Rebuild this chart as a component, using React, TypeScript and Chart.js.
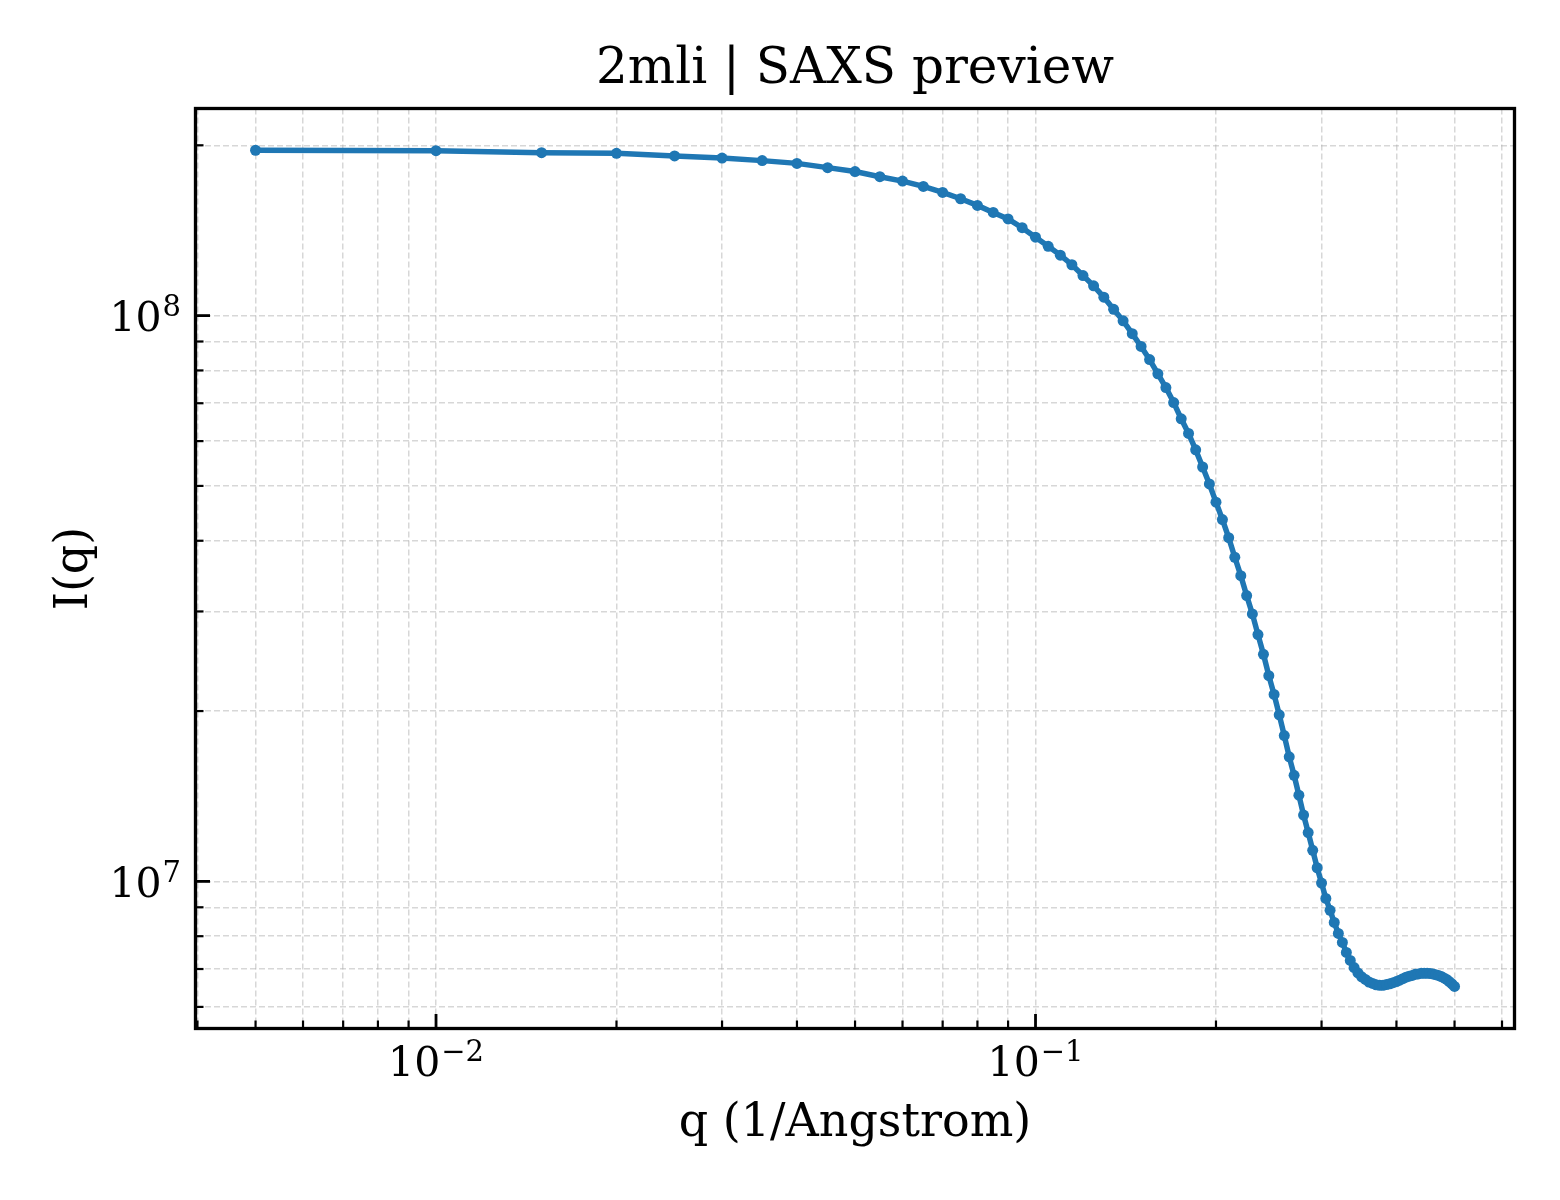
import React, { useEffect, useRef } from "react";
import { Chart, registerables } from "chart.js";

Chart.register(...registerables);

// q in 1/Angstrom
const qValues = [
  0.005, 0.01, 0.015, 0.02, 0.025, 0.03, 0.035, 0.04, 0.045, 0.05,
  0.055, 0.06, 0.065, 0.07, 0.075, 0.08, 0.085, 0.09, 0.095, 0.1,
  0.105, 0.11, 0.115, 0.12, 0.125, 0.13, 0.135, 0.14, 0.145, 0.15,
  0.155, 0.16, 0.165, 0.17, 0.175, 0.18, 0.185, 0.19, 0.195, 0.2,
  0.205, 0.21, 0.215, 0.22, 0.225, 0.23, 0.235, 0.24, 0.245, 0.25,
  0.255, 0.26, 0.265, 0.27, 0.275, 0.28, 0.285, 0.29, 0.295, 0.3,
  0.305, 0.31, 0.315, 0.32, 0.325, 0.33, 0.335, 0.34, 0.345, 0.35,
  0.355, 0.36, 0.365, 0.37, 0.375, 0.38, 0.385, 0.39, 0.395, 0.4,
  0.405, 0.41, 0.415, 0.42, 0.425, 0.43, 0.435, 0.44, 0.445, 0.45,
  0.455, 0.46, 0.465, 0.47, 0.475, 0.48, 0.485, 0.49, 0.495, 0.5,
];

// I(q)
const intensity = [
  1.96e8, 1.957e8, 1.941e8, 1.936e8, 1.915e8, 1.899e8, 1.879e8, 1.858e8, 1.826e8, 1.797e8,
  1.76e8, 1.729e8, 1.692e8, 1.651e8, 1.609e8, 1.566e8, 1.522e8, 1.482e8, 1.43e8, 1.376e8,
  1.326e8, 1.279e8, 1.23e8, 1.177e8, 1.129e8, 1.078e8, 1.026e8, 9.79e7, 9.29e7, 8.82e7,
  8.36e7, 7.89e7, 7.46e7, 7.02e7, 6.57e7, 6.19e7, 5.79e7, 5.4e7, 5.04e7, 4.68e7,
  4.36e7, 4.05e7, 3.74e7, 3.47e7, 3.2e7, 2.97e7, 2.73e7, 2.52e7, 2.31e7, 2.14e7,
  1.97e7, 1.81e7, 1.66e7, 1.54e7, 1.42e7, 1.31e7, 1.22e7, 1.135e7, 1.057e7, 9.93e6,
  9.33e6, 8.89e6, 8.46e6, 8.09e6, 7.8e6, 7.49e6, 7.25e6, 7.04e6, 6.89e6, 6.78e6,
  6.71e6, 6.64e6, 6.6e6, 6.565e6, 6.55e6, 6.55e6, 6.57e6, 6.59e6, 6.62e6, 6.65e6,
  6.69e6, 6.73e6, 6.77e6, 6.8e6, 6.82e6, 6.85e6, 6.86e6, 6.88e6, 6.88e6, 6.88e6,
  6.875e6, 6.86e6, 6.84e6, 6.82e6, 6.79e6, 6.75e6, 6.71e6, 6.65e6, 6.59e6, 6.52e6,
];

// tick positions (log axes: 1..9 x 10^k)
const xTickValues = [
  0.004, 0.005, 0.006, 0.007, 0.008, 0.009,
  0.01, 0.02, 0.03, 0.04, 0.05, 0.06, 0.07, 0.08, 0.09,
  0.1, 0.2, 0.3, 0.4, 0.5, 0.6,
];
const yTickValues = [
  6e6, 7e6, 8e6, 9e6,
  1e7, 2e7, 3e7, 4e7, 5e7, 6e7, 7e7, 8e7, 9e7,
  1e8, 2e8,
];
const xMajorTicks = [0.01, 0.1];
const xMajorExponents = ["\u22122", "\u22121"];
const yMajorTicks = [1e7, 1e8];
const yMajorExponents = ["7", "8"];

const SERIF = "'DejaVu Serif', serif";

function drawPower(
  ctx: CanvasRenderingContext2D,
  exp: string,
  anchorX: number,
  baseline: number,
  align: "center" | "right"
) {
  ctx.font = `41px ${SERIF}`;
  const w1 = ctx.measureText("10").width;
  ctx.font = `29px ${SERIF}`;
  const w2 = ctx.measureText(exp).width;
  const gap = 1;
  const total = w1 + gap + w2;
  const start = align === "center" ? anchorX - total / 2 : anchorX - total;
  ctx.textAlign = "left";
  ctx.textBaseline = "alphabetic";
  ctx.font = `41px ${SERIF}`;
  ctx.fillText("10", start, baseline);
  ctx.font = `29px ${SERIF}`;
  ctx.fillText(exp, start + w1 + gap, baseline - 15);
}

// inward ticks, full frame and 10^n labels, matplotlib style
const axisDecor = {
  id: "axisDecor",
  afterDraw(chart: any) {
    const { ctx, chartArea: a, scales } = chart;
    const xs = scales.x;
    const ys = scales.y;
    ctx.save();
    ctx.strokeStyle = "#000";

    xTickValues.forEach((v) => {
      const px = xs.getPixelForValue(v);
      if (px < a.left || px > a.right) return;
      const major = xMajorTicks.includes(v);
      ctx.lineWidth = major ? 2.8 : 2.2;
      ctx.beginPath();
      ctx.moveTo(px, a.bottom);
      ctx.lineTo(px, a.bottom - (major ? 14.5 : 8));
      ctx.stroke();
    });
    yTickValues.forEach((v) => {
      const py = ys.getPixelForValue(v);
      if (py < a.top || py > a.bottom) return;
      const major = yMajorTicks.includes(v);
      ctx.lineWidth = major ? 2.8 : 2.2;
      ctx.beginPath();
      ctx.moveTo(a.left, py);
      ctx.lineTo(a.left + (major ? 14.5 : 8), py);
      ctx.stroke();
    });

    ctx.lineWidth = 3.3;
    ctx.strokeRect(a.left, a.top, a.right - a.left, a.bottom - a.top);

    ctx.fillStyle = "#000";
    xMajorTicks.forEach((v, i) => {
      drawPower(ctx, xMajorExponents[i], xs.getPixelForValue(v), a.bottom + 47, "center");
    });
    yMajorTicks.forEach((v, i) => {
      drawPower(ctx, yMajorExponents[i], a.left - 14.5, ys.getPixelForValue(v) + 15.7, "right");
    });
    ctx.restore();
  },
};

export default function App() {
  const canvasRef = useRef<HTMLCanvasElement | null>(null);

  useEffect(() => {
    if (!canvasRef.current) return;

    const points = qValues.map((q, i) => ({ x: q, y: intensity[i] }));

    const chart = new Chart(canvasRef.current, {
      type: "line",
      data: {
        datasets: [
          {
            data: points,
            borderColor: "#1f77b4",
            backgroundColor: "#1f77b4",
            borderWidth: 5.5,
            pointRadius: 5.5,
            pointBorderWidth: 0,
            pointBackgroundColor: "#1f77b4",
            tension: 0,
          },
        ],
      },
      options: {
        responsive: false,
        devicePixelRatio: 1,
        animation: false,
        layout: { padding: { left: 0, right: 45.5, top: 0, bottom: 0 } },
        plugins: {
          legend: { display: false },
          tooltip: { enabled: false },
          title: {
            display: true,
            text: "2mli | SAXS preview",
            color: "#000",
            fullSize: false,
            font: { family: SERIF, size: 50, weight: "normal", lineHeight: 1.2 },
            padding: { top: 40, bottom: 8.5 },
          },
        },
        scales: {
          x: {
            type: "logarithmic",
            min: 0.00397,
            max: 0.6295,
            afterBuildTicks: (scale: any) => {
              scale.ticks = xTickValues.map((v) => ({ value: v }));
            },
            afterFit: (scale: any) => {
              scale.height = 171.5;
            },
            ticks: { display: false, autoSkip: false },
            grid: { color: "rgba(176,176,176,0.5)", lineWidth: 1.5, drawTicks: false },
            border: { display: false, dash: [6, 3] },
            title: {
              display: true,
              text: "q (1/Angstrom)",
              color: "#000",
              font: { family: SERIF, size: 46, weight: "normal", lineHeight: 1.2 },
              padding: { top: 0, bottom: 48.5 },
            },
          },
          y: {
            type: "logarithmic",
            min: 5.495e6,
            max: 2.323e8,
            afterBuildTicks: (scale: any) => {
              scale.ticks = yTickValues.map((v) => ({ value: v }));
            },
            afterFit: (scale: any) => {
              scale.width = 195.5;
            },
            ticks: { display: false, autoSkip: false },
            grid: { color: "rgba(176,176,176,0.5)", lineWidth: 1.5, drawTicks: false },
            border: { display: false, dash: [6, 3] },
            title: {
              display: true,
              text: "I(q)",
              color: "#000",
              font: { family: SERIF, size: 46, weight: "normal", lineHeight: 1.2 },
              padding: { top: 47.2, bottom: 0 },
            },
          },
        },
      },
      plugins: [axisDecor],
    });

    return () => {
      chart.destroy();
    };
  }, []);

  return (
    <div style={{ position: "absolute", left: 0, top: 0, width: 1560, height: 1200, background: "#fff" }}>
      <canvas ref={canvasRef} width={1560} height={1200}></canvas>
    </div>
  );
}
